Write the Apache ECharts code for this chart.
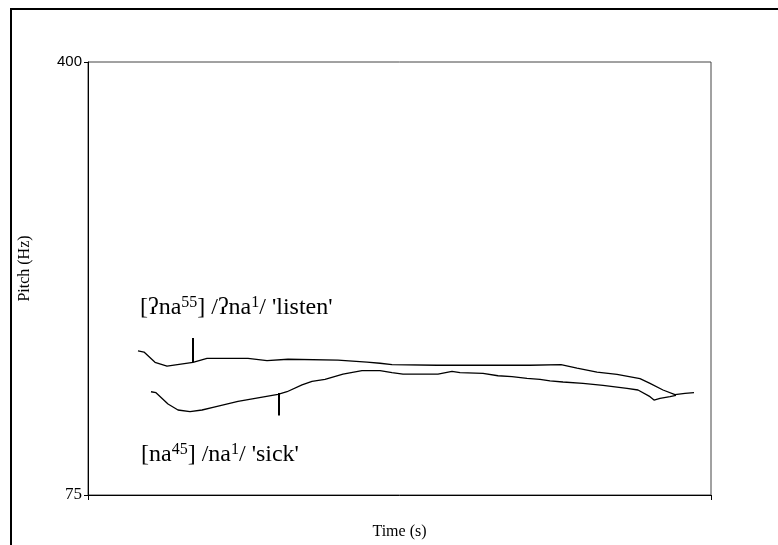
<!DOCTYPE html>
<html>
<head>
<meta charset="utf-8">
<style>
  html, body { margin: 0; padding: 0; background: #fff; }
  #chart { width: 778px; height: 545px; }
</style>
<script src="https://cdn.jsdelivr.net/npm/echarts@6/dist/echarts.min.js"></script>
</head>
<body>
<div id="chart"></div>
<script>
// Pitch contours (time in s, pitch in Hz)
const listenTime = [0.050, 0.056, 0.067, 0.079, 0.105, 0.119, 0.160, 0.179, 0.200, 0.250, 0.279, 0.292, 0.304, 0.349, 0.442, 0.444, 0.473, 0.489, 0.509, 0.529, 0.552, 0.562, 0.575, 0.587, 0.597, 0.606];
const listenPitch = [183.1, 182.3, 174.6, 171.8, 174.6, 177.6, 177.6, 175.8, 176.9, 176.3, 174.8, 173.9, 172.8, 172.4, 172.4, 173.0, 172.8, 170.3, 167.3, 165.6, 162.3, 158.8, 153.8, 150.4, 151.3, 151.8];

const sickTime = [0.063, 0.068, 0.080, 0.090, 0.102, 0.114, 0.125, 0.150, 0.190, 0.199, 0.214, 0.224, 0.237, 0.255, 0.274, 0.292, 0.304, 0.315, 0.350, 0.352, 0.364, 0.372, 0.395, 0.410, 0.424, 0.439, 0.452, 0.462, 0.475, 0.495, 0.515, 0.539, 0.550, 0.562, 0.566, 0.572, 0.582, 0.588];
const sickPitch = [152.5, 151.8, 143.3, 138.8, 137.5, 138.8, 140.8, 145.3, 150.6, 152.5, 157.6, 160.3, 161.8, 165.8, 168.3, 168.3, 166.8, 165.8, 165.8, 166.8, 167.8, 166.8, 166.3, 164.5, 163.8, 162.6, 161.8, 160.6, 159.8, 158.8, 157.3, 155.1, 153.8, 148.8, 146.3, 147.6, 148.8, 149.7];

// Segment boundary markers: time and pitch span of each tick
const listenMarkTime = 0.105;
const listenMarkPitch = [192.8, 174.8];
const sickMarkTime = 0.191;
const sickMarkPitch = [151.6, 134.7];

// Axis extents and labelled ticks
const timeRange = [0, 0.623];
const pitchRange = [75, 400];
const pitchTicks = [75, 400];

const listenLabel = "[ʔna{sup|55}] /ʔna{sup|1}/ 'listen'";
const sickLabel = "[na{sup|45}] /na{sup|1}/ 'sick'";

const zip = (xs, ys) => xs.map((x, i) => [x, ys[i]]);

const chart = echarts.init(document.getElementById('chart'), null, { renderer: 'canvas' });

const serif = '"Liberation Serif", "DejaVu Serif", serif';
const sans = '"Liberation Sans", Arial, sans-serif';
const labelRich = {
  sup: { fontFamily: serif, fontSize: 16, verticalAlign: 'top', fill: '#000' }
};

const option = {
  animation: false,
  backgroundColor: '#fff',
  grid: {
    left: 88, top: 62, right: 67, bottom: 50,
    show: true, borderColor: '#444', borderWidth: 1
  },
  xAxis: {
    type: 'value',
    min: timeRange[0], max: timeRange[1],
    name: 'Time (s)',
    nameLocation: 'middle',
    nameGap: 29,
    nameTextStyle: { fontFamily: serif, fontSize: 16, color: '#000' },
    axisLine: { show: true, lineStyle: { color: '#000', width: 1 } },
    axisTick: { show: true, length: 5, customValues: timeRange, lineStyle: { color: '#000' } },
    axisLabel: { show: false },
    splitLine: { show: false }
  },
  yAxis: {
    type: 'value',
    min: pitchRange[0], max: pitchRange[1],
    name: 'Pitch (Hz)',
    nameLocation: 'middle',
    nameRotate: 90,
    nameGap: 55,
    nameTextStyle: { fontFamily: serif, fontSize: 16, color: '#000', padding: [0, 0, 0, 20] },
    axisLine: { show: true, lineStyle: { color: '#000', width: 1 } },
    axisTick: { show: true, length: 4, customValues: pitchTicks, lineStyle: { color: '#000' } },
    axisLabel: {
      customValues: pitchTicks,
      margin: 6,
      color: '#000',
      fontFamily: sans,
      fontSize: 15,
      formatter: v => (Number(v) === 400 ? '{s|400}' : '{t|' + v + '}'),
      rich: {
        s: { fontFamily: sans, fontSize: 15, color: '#000' },
        t: { fontFamily: serif, fontSize: 17, color: '#000' }
      }
    },
    splitLine: { show: false }
  },
  series: [
    {
      name: 'listen',
      type: 'line',
      data: zip(listenTime, listenPitch),
      showSymbol: false,
      lineStyle: { color: '#000', width: 1.3 }
    },
    {
      name: 'sick',
      type: 'line',
      data: zip(sickTime, sickPitch),
      showSymbol: false,
      lineStyle: { color: '#000', width: 1.3 }
    },
    {
      name: 'listen boundary',
      type: 'line',
      data: listenMarkPitch.map(p => [listenMarkTime, p]),
      showSymbol: false,
      lineStyle: { color: '#000', width: 2 }
    },
    {
      name: 'sick boundary',
      type: 'line',
      data: sickMarkPitch.map(p => [sickMarkTime, p]),
      showSymbol: false,
      lineStyle: { color: '#000', width: 2 }
    }
  ],
  graphic: [
    {
      type: 'rect',
      silent: true,
      shape: { x: 11, y: 9, width: 800, height: 600 },
      style: { fill: null, stroke: '#000', lineWidth: 2 }
    },
    {
      type: 'text',
      silent: true,
      x: 140, y: 308,
      style: {
        text: listenLabel,
        font: '24px ' + serif,
        fill: '#000',
        verticalAlign: 'middle',
        lineHeight: 26,
        rich: labelRich
      }
    },
    {
      type: 'text',
      silent: true,
      x: 141, y: 455,
      style: {
        text: sickLabel,
        font: '24px ' + serif,
        fill: '#000',
        verticalAlign: 'middle',
        lineHeight: 26,
        rich: labelRich
      }
    }
  ]
};

chart.setOption(option);
</script>
</body>
</html>
